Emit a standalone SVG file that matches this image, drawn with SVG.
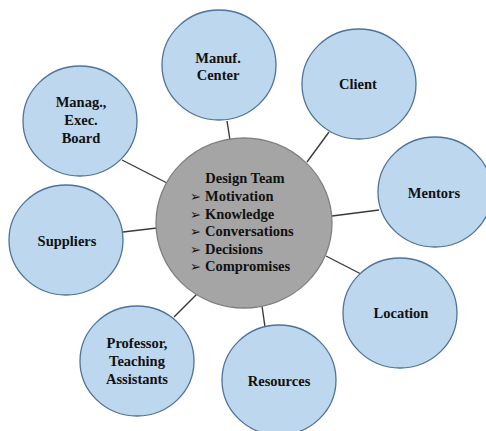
<svg xmlns="http://www.w3.org/2000/svg" width="486" height="431" viewBox="0 0 486 431">
<style>
.sat{fill:#bdd7ee;stroke:#4f7397;stroke-width:1.3}
.hub{fill:#a5a5a5;stroke:#808080;stroke-width:1.3}
.lbl{font-family:"Liberation Serif","Times New Roman",serif;font-weight:bold;font-size:14.5px;fill:#111;text-anchor:middle}
.item{font-family:"Liberation Serif","Times New Roman",serif;font-weight:bold;font-size:14.5px;fill:#111}
.bul{font-family:"DejaVu Sans",sans-serif;font-weight:bold;font-size:13px}
#connectors line{stroke:#3a3a3a;stroke-width:1.4}
</style>
<rect width="486" height="431" fill="#fff"/>
<g id="connectors">
<line x1="122" y1="160" x2="167" y2="183"/>
<line x1="227" y1="121" x2="230" y2="140"/>
<line x1="329" y1="132" x2="307" y2="162"/>
<line x1="332" y1="216" x2="379" y2="210"/>
<line x1="326" y1="256" x2="361" y2="274"/>
<line x1="262" y1="306" x2="265" y2="327"/>
<line x1="197" y1="294" x2="174" y2="317"/>
<line x1="123" y1="232" x2="157" y2="228"/>
</g>
<g id="hub">
<ellipse class="hub" cx="244" cy="223" rx="88" ry="85"/>
<text class="lbl" x="245" y="183">Design Team</text>
<text class="item" x="190" y="201"><tspan class="bul">➢</tspan><tspan x="205">Motivation</tspan></text>
<text class="item" x="190" y="218.5"><tspan class="bul">➢</tspan><tspan x="205">Knowledge</tspan></text>
<text class="item" x="190" y="236"><tspan class="bul">➢</tspan><tspan x="205">Conversations</tspan></text>
<text class="item" x="190" y="253.5"><tspan class="bul">➢</tspan><tspan x="205">Decisions</tspan></text>
<text class="item" x="190" y="271"><tspan class="bul">➢</tspan><tspan x="205">Compromises</tspan></text>
</g>
<g id="manag">
<ellipse class="sat" cx="80" cy="121" rx="57" ry="55"/>
<text class="lbl" x="81" y="107">Manag.,</text>
<text class="lbl" x="81" y="125">Exec.</text>
<text class="lbl" x="81" y="143">Board</text>
</g>
<g id="manuf">
<ellipse class="sat" cx="219" cy="65" rx="57" ry="55"/>
<text class="lbl" x="218" y="63">Manuf.</text>
<text class="lbl" x="218" y="80">Center</text>
</g>
<g id="client">
<ellipse class="sat" cx="359" cy="84" rx="57" ry="55"/>
<text class="lbl" x="358" y="89">Client</text>
</g>
<g id="mentors">
<ellipse class="sat" cx="435" cy="192" rx="57" ry="55"/>
<text class="lbl" x="434" y="198">Mentors</text>
</g>
<g id="location">
<ellipse class="sat" cx="400" cy="313" rx="57" ry="55"/>
<text class="lbl" x="401" y="318">Location</text>
</g>
<g id="resources">
<ellipse class="sat" cx="279" cy="380" rx="57" ry="55"/>
<text class="lbl" x="279" y="386">Resources</text>
</g>
<g id="professor">
<ellipse class="sat" cx="137" cy="361" rx="57" ry="55"/>
<text class="lbl" x="137" y="348">Professor,</text>
<text class="lbl" x="137" y="366">Teaching</text>
<text class="lbl" x="137" y="384">Assistants</text>
</g>
<g id="suppliers">
<ellipse class="sat" cx="66" cy="240" rx="57" ry="55"/>
<text class="lbl" x="67" y="246">Suppliers</text>
</g>
</svg>
